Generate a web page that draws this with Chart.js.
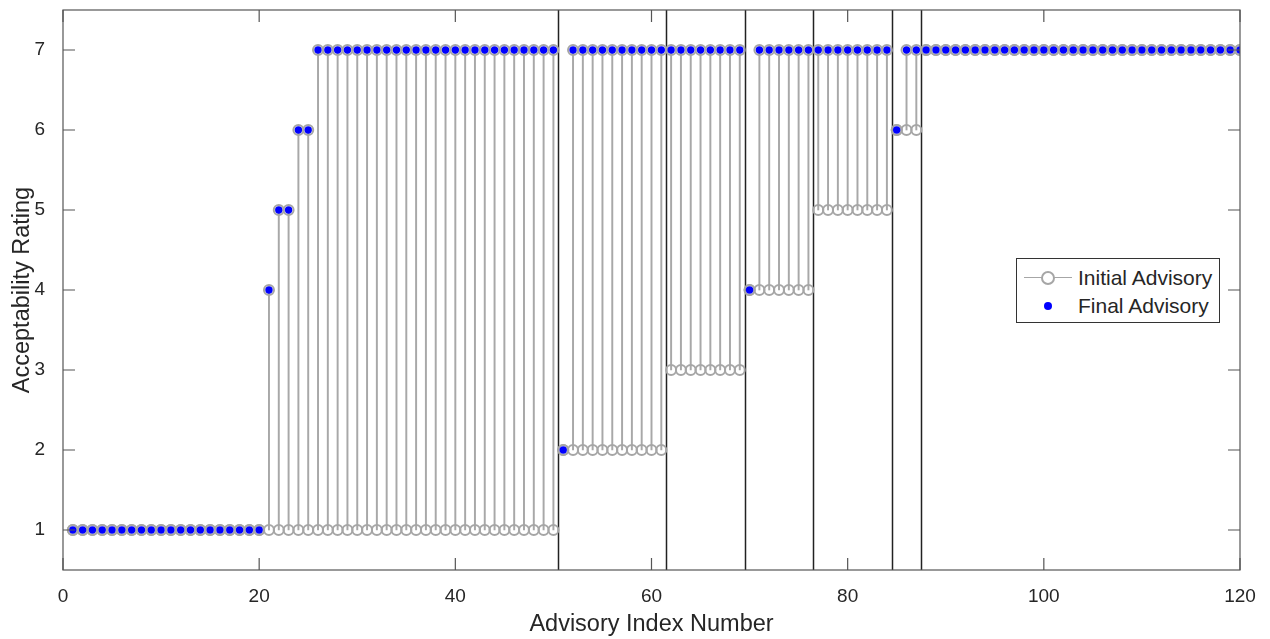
<!DOCTYPE html>
<html>
<head>
<meta charset="utf-8">
<title>Acceptability Rating</title>
<script src="https://cdn.jsdelivr.net/npm/chart.js@4.4.0/dist/chart.umd.min.js"></script>
<style>
    html, body { margin: 0; padding: 0; background: #fff; }
    #wrap { position: relative; width: 1270px; height: 639px; }
    #legend {
        position: absolute; left: 1016px; top: 258px; width: 202px; height: 63px;
        border: 1px solid #333; background: #fff;
        font-family: "Liberation Sans", Arial, sans-serif; font-size: 21px; color: #262626;
    }
    .row { position: absolute; left: 0; width: 202px; height: 24px; line-height: 24px; }
    .row .lbl { position: absolute; left: 61px; top: 0; white-space: nowrap; }
    .sample-line { position: absolute; left: 7px; top: 11px; width: 48px; height: 1px; background: #a6a6a6; }
    .sample-ring { position: absolute; left: 24px; top: 5px; width: 10px; height: 10px; border: 2px solid #a6a6a6; border-radius: 50%; background: #fff; }
    .sample-dot { position: absolute; left: 27px; top: 8px; width: 8px; height: 8px; border-radius: 50%; background: #0000ff; }
</style>
</head>
<body>
<div id="wrap">
    <canvas id="ratingChart" width="1270" height="639"></canvas>
    <div id="legend">
        <div class="row" style="top:7px">
            <span class="sample-line"></span><span class="sample-ring"></span>
            <span class="lbl">Initial Advisory</span>
        </div>
        <div class="row" style="top:35px">
            <span class="sample-dot"></span>
            <span class="lbl">Final Advisory</span>
        </div>
    </div>
</div>
<script>
// Nomor advisory 1..120 (sumbu x)
const advisoryIndex = Array.from({ length: 120 }, (_, i) => i + 1);

// Rating awal (Initial Advisory)
const initialValues = [
    1, 1, 1, 1, 1, 1, 1, 1, 1, 1,
    1, 1, 1, 1, 1, 1, 1, 1, 1, 1,
    1, 1, 1, 1, 1, 1, 1, 1, 1, 1,
    1, 1, 1, 1, 1, 1, 1, 1, 1, 1,
    1, 1, 1, 1, 1, 1, 1, 1, 1, 1,
    2, 2, 2, 2, 2, 2, 2, 2, 2, 2,
    2, 3, 3, 3, 3, 3, 3, 3, 3, 4,
    4, 4, 4, 4, 4, 4, 5, 5, 5, 5,
    5, 5, 5, 5, 6, 6, 6, 7, 7, 7,
    7, 7, 7, 7, 7, 7, 7, 7, 7, 7,
    7, 7, 7, 7, 7, 7, 7, 7, 7, 7,
    7, 7, 7, 7, 7, 7, 7, 7, 7, 7
];

// Rating akhir (Final Advisory)
const finalValues = [
    1, 1, 1, 1, 1, 1, 1, 1, 1, 1,
    1, 1, 1, 1, 1, 1, 1, 1, 1, 1,
    4, 5, 5, 6, 6, 7, 7, 7, 7, 7,
    7, 7, 7, 7, 7, 7, 7, 7, 7, 7,
    7, 7, 7, 7, 7, 7, 7, 7, 7, 7,
    2, 7, 7, 7, 7, 7, 7, 7, 7, 7,
    7, 7, 7, 7, 7, 7, 7, 7, 7, 4,
    7, 7, 7, 7, 7, 7, 7, 7, 7, 7,
    7, 7, 7, 7, 6, 7, 7, 7, 7, 7,
    7, 7, 7, 7, 7, 7, 7, 7, 7, 7,
    7, 7, 7, 7, 7, 7, 7, 7, 7, 7,
    7, 7, 7, 7, 7, 7, 7, 7, 7, 7
];

// Garis pemisah kelompok dan label tick
const groupBoundaries = [50.5, 61.5, 69.5, 76.5, 84.5, 87.5];
const xTicks = [0, 20, 40, 60, 80, 100, 120];
const yTicks = [1, 2, 3, 4, 5, 6, 7];

const FONT = '"Liberation Sans", Arial, sans-serif';
const TEXT = '#262626';
const GREY = '#a6a6a6';

function asPoints(values) {
    return advisoryIndex.map((x, i) => ({ x: x, y: values[i] }));
}

// Plugin: garis pemisah, kotak sumbu dan tick ke dalam (gaya MATLAB)
const framePlugin = {
    id: 'frame',
    beforeDatasetsDraw(chart) {
        const { ctx, chartArea: a, scales: { x } } = chart;
        ctx.save();
        ctx.strokeStyle = '#222';
        ctx.lineWidth = 1.5;
        groupBoundaries.forEach(v => {
            const px = Math.round(x.getPixelForValue(v)) + 0.5;
            ctx.beginPath();
            ctx.moveTo(px, a.top);
            ctx.lineTo(px, a.bottom);
            ctx.stroke();
        });
        ctx.restore();
    },
    afterDatasetsDraw(chart) {
        const { ctx, chartArea: a, scales: { x, y } } = chart;
        ctx.save();
        ctx.strokeStyle = '#555';
        ctx.lineWidth = 1.2;
        ctx.strokeRect(a.left, a.top, a.right - a.left, a.bottom - a.top);
        ctx.beginPath();
        xTicks.forEach(v => {
            const px = x.getPixelForValue(v);
            ctx.moveTo(px, a.bottom); ctx.lineTo(px, a.bottom - 12);
            ctx.moveTo(px, a.top); ctx.lineTo(px, a.top + 12);
        });
        yTicks.forEach(v => {
            const py = y.getPixelForValue(v);
            ctx.moveTo(a.left, py); ctx.lineTo(a.left + 12, py);
            ctx.moveTo(a.right, py); ctx.lineTo(a.right - 12, py);
        });
        ctx.stroke();
        ctx.restore();
    }
};

const ctx = document.getElementById('ratingChart').getContext('2d');
const ratingChart = new Chart(ctx, {
    type: 'scatter',
    data: {
        datasets: [
            {
                // batang vertikal dari rating awal ke rating akhir
                type: 'bar',
                label: 'stem',
                data: advisoryIndex.map((x, i) => ({ x: x, y: [initialValues[i], finalValues[i]] })),
                backgroundColor: '#a8a8a8',
                borderWidth: 0,
                barThickness: 1.3,
                order: 4
            },
            {
                label: 'Initial Advisory',
                data: asPoints(initialValues),
                pointRadius: 5,
                pointBorderWidth: 2,
                pointBorderColor: GREY,
                pointBackgroundColor: 'rgba(255,255,255,0)',
                order: 3
            },
            {
                label: 'ring',
                data: asPoints(finalValues),
                pointRadius: 5,
                pointBorderWidth: 2,
                pointBorderColor: GREY,
                pointBackgroundColor: 'rgba(255,255,255,0)',
                order: 2
            },
            {
                label: 'Final Advisory',
                data: asPoints(finalValues),
                pointRadius: 3.7,
                pointBorderWidth: 0,
                pointBackgroundColor: '#0000ff',
                order: 1
            }
        ]
    },
    options: {
        responsive: false,
        animation: false,
        events: [],
        layout: { padding: { top: 10, right: 30, left: 0, bottom: 0 } },
        plugins: {
            legend: { display: false },
            tooltip: { enabled: false }
        },
        scales: {
            x: {
                type: 'linear',
                min: 0,
                max: 120,
                offset: false,
                grid: { display: false, offset: false },
                border: { display: false },
                afterBuildTicks: scale => { scale.ticks = xTicks.map(v => ({ value: v })); },
                afterFit: scale => { scale.height = 69; },
                ticks: { color: TEXT, padding: 7, font: { family: FONT, size: 19 }, maxRotation: 0 },
                title: {
                    display: true,
                    text: 'Advisory Index Number',
                    color: TEXT,
                    font: { family: FONT, size: 23.5 },
                    padding: { top: 0, bottom: 0 }
                }
            },
            y: {
                min: 0.5,
                max: 7.5,
                grid: { display: false },
                border: { display: false },
                afterBuildTicks: scale => { scale.ticks = yTicks.map(v => ({ value: v })); },
                afterFit: scale => {
                    scale.width = 63;
                    scale.paddingTop = 0;
                    scale.paddingBottom = 0;
                },
                ticks: { color: TEXT, padding: 10, font: { family: FONT, size: 19 } },
                title: {
                    display: true,
                    text: 'Acceptability Rating',
                    color: TEXT,
                    font: { family: FONT, size: 23.5 },
                    padding: { top: 8, bottom: 0 }
                }
            }
        }
    },
    plugins: [framePlugin]
});
</script>
</body>
</html>
